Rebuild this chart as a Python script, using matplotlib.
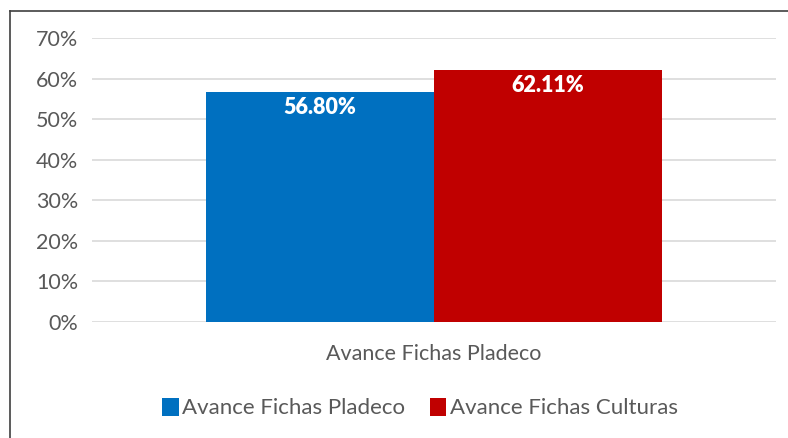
import matplotlib
matplotlib.use("Agg")
import matplotlib.pyplot as plt
from matplotlib.lines import Line2D
from matplotlib.ticker import FuncFormatter

plt.rcParams['font.family'] = ['Lato', 'DejaVu Sans']

categories = ["Avance Fichas Pladeco"]
series_names = ["Avance Fichas Pladeco", "Avance Fichas Culturas"]
series_values = [[56.80], [62.11]]
colors = ["#0070C0", "#C00000"]
yticks = [0, 10, 20, 30, 40, 50, 60, 70]

W, H = 788, 438
fig = plt.figure(figsize=(W / 100, H / 100), dpi=100)
ax = fig.add_axes([92 / W, 1 - 322 / H, (776 - 92) / W, (322 - 38) / H])

n = len(series_names)
bw = 1 / 3
for i, (name, vals) in enumerate(zip(series_names, series_values)):
    xs = [j + (i - (n - 1) / 2) * bw for j in range(len(categories))]
    ax.bar(xs, vals, width=bw, color=colors[i], label=name, zorder=3)
    for x, v in zip(xs, vals):
        ax.text(x, v - 1.3, f"{v:.2f}%", ha="center", va="top", color="white",
                fontsize=15.5, fontweight="heavy", zorder=4)

ax.set_xlim(-0.5, len(categories) - 0.5)
ax.set_ylim(0, 70)
ax.set_yticks(yticks)
ax.yaxis.set_major_formatter(FuncFormatter(lambda v, p: f"{v:.0f}%"))
ax.set_xticks(range(len(categories)))
ax.set_xticklabels(categories)
ax.tick_params(axis="both", length=0, colors="#595959", labelsize=15.5)
ax.tick_params(axis="y", pad=10)
ax.tick_params(axis="x", pad=16)
ax.grid(axis="y", color="#D9D9D9", linewidth=1.2, zorder=0)
for s in ax.spines.values():
    s.set_visible(False)

fig.legend(loc="center", bbox_to_anchor=(420 / W, 1 - 408 / H), ncol=2,
           frameon=False, fontsize=16, handlelength=0.75, handleheight=0.9,
           handletextpad=0.15, columnspacing=1.1, labelcolor="#595959")

fig.add_artist(Line2D([10 / W, 10 / W], [0, 1 - 11 / H], transform=fig.transFigure,
                      color="#404040", linewidth=1.2))
fig.add_artist(Line2D([10 / W, 1], [1 - 11 / H, 1 - 11 / H], transform=fig.transFigure,
                      color="#404040", linewidth=1.2))

fig.savefig("out.png", dpi=100)
